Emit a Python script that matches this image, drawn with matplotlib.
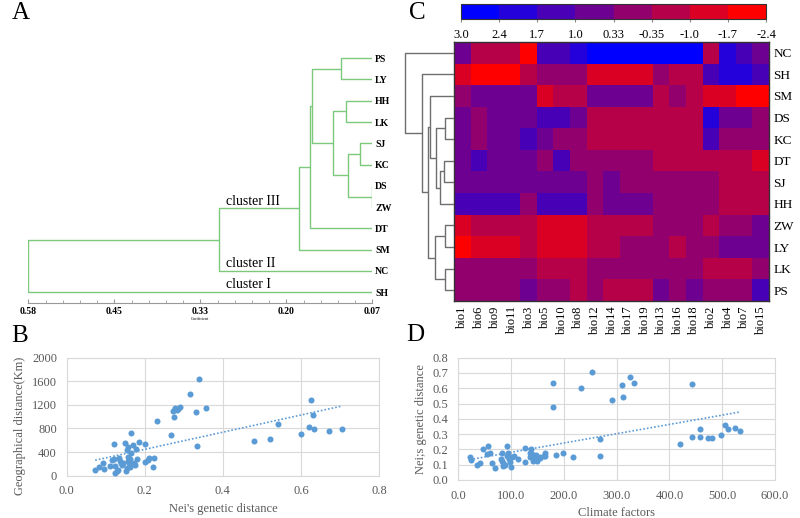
import numpy as np
import matplotlib
matplotlib.use('Agg')
import matplotlib.pyplot as plt
from matplotlib.colors import ListedColormap, BoundaryNorm
from matplotlib.ticker import FixedLocator

plt.rcParams['font.family'] = ['Liberation Serif', 'DejaVu Serif']

# ---- data ----
# panel A: UPGMA tree (Nei's coefficient)
treeLeaves = ['PS', 'LY', 'HH', 'LK', 'SJ', 'KC', 'DS', 'ZW', 'DT', 'SM', 'NC', 'SH']
treeMerges = [('PS', 'LY', 0.116), ('HH', 'LK', 0.1095), ('SJ', 'KC', 0.088),
              ('DS', 'ZW', 0.0705), (2, 3, 0.1065), (1, 4, 0.128), (0, 5, 0.160),
              (6, 'DT', 0.162), (7, 'SM', 0.179), (8, 'NC', 0.297), (9, 'SH', 0.58)]
treeTicks = ['0.58', '0.45', '0.33', '0.20', '0.07']

# panel C: heatmap of climate variables
hmRows = ['NC', 'SH', 'SM', 'DS', 'KC', 'DT', 'SJ', 'HH', 'ZW', 'LY', 'LK', 'PS']
hmCols = ['bio1', 'bio6', 'bio9', 'bio11', 'bio3', 'bio5', 'bio10', 'bio8', 'bio12',
          'bio14', 'bio17', 'bio19', 'bio13', 'bio16', 'bio18', 'bio2', 'bio4', 'bio7', 'bio15']
hmValues = np.array([
    [0.7, -0.7, -0.7, -0.7, -2.1, 1.4, 1.4, 2.0, 2.7, 2.7, 2.7, 2.7, 2.7, 2.7, 2.7, -0.7, 2.0, 1.4, 0.7],
    [-1.4, -2.1, -2.1, -2.1, -0.7, 0.0, 0.0, 0.0, -1.4, -1.4, -1.4, -1.4, 0.0, -0.7, -0.7, 1.4, 2.0, 2.0, 1.4],
    [0.0, 0.7, 0.7, 0.7, 0.7, -1.4, -0.7, -0.7, 0.7, 0.7, 0.7, 0.7, -0.7, 0.0, -0.7, -1.4, -1.4, -2.1, -2.1],
    [0.7, 0.0, 0.7, 0.7, 0.7, 1.4, 1.4, 0.7, -0.7, -0.7, -0.7, -0.7, -0.7, -0.7, -0.7, 2.0, 0.7, 0.7, 0.0],
    [0.7, 0.0, 0.7, 0.7, 1.4, 0.7, 0.0, 0.0, -0.7, -0.7, -0.7, -0.7, -0.7, -0.7, -0.7, 1.4, 0.0, 0.0, 0.0],
    [0.7, 1.4, 0.7, 0.7, 0.7, 0.0, 1.4, 0.0, 0.0, 0.0, 0.0, 0.0, -0.7, -0.7, -0.7, -0.7, -0.7, -0.7, -1.4],
    [0.7, 0.7, 0.7, 0.7, 0.7, 0.7, 0.7, 0.7, 0.0, 0.7, 0.0, 0.0, 0.0, 0.0, 0.0, 0.0, -0.7, -0.7, -0.7],
    [1.4, 1.4, 1.4, 1.4, 0.0, 1.4, 1.4, 1.4, 0.0, 0.7, 0.7, 0.7, 0.0, 0.0, 0.0, 0.0, -0.7, -0.7, -0.7],
    [-1.4, -0.7, -0.7, -0.7, -0.7, -1.4, -1.4, -1.4, -0.7, -0.7, -0.7, -0.7, 0.0, 0.0, 0.0, -0.7, 0.0, 0.0, 0.7],
    [-2.1, -1.4, -1.4, -1.4, -0.7, -1.4, -1.4, -1.4, -0.7, -0.7, 0.0, 0.0, 0.0, -0.7, 0.0, 0.0, 0.7, 0.7, 0.7],
    [0.0, 0.0, 0.0, 0.0, 0.0, -0.7, -0.7, -0.7, 0.0, 0.0, 0.0, 0.0, 0.0, 0.0, 0.0, -0.7, -0.7, -0.7, 0.0],
    [0.0, 0.0, 0.0, 0.0, 0.7, 0.0, 0.0, -0.7, 0.0, -0.7, -0.7, -0.7, 0.7, 0.0, 0.7, 0.0, 0.0, 0.0, 1.4],
])
cbBounds = [3.0, 2.4, 1.7, 1.0, 0.33, -0.35, -1.0, -1.7, -2.4]
cbLabels = ['3.0', '2.4', '1.7', '1.0', '0.33', '-0.35', '-1.0', '-1.7', '-2.4']
# row tree of heatmap (merge heights in arbitrary units)
hmMerges = [('DS', 'KC', 9), ('DT', 'SJ', 10.5), (1, 'HH', 14), (0, 2, 18.3),
            ('SM', 3, 24), ('ZW', 'LY', 9), ('LK', 'PS', 9), (5, 6, 19),
            (4, 7, 25.7), ('SH', 8, 32.3), ('NC', 9, 49)]

# panel B: genetic vs geographic distance
bX = [0.073, 0.082, 0.094, 0.096, 0.111, 0.116, 0.121, 0.122, 0.124, 0.125, 0.128, 0.131, 0.135,
      0.137, 0.138, 0.142, 0.143, 0.150, 0.151, 0.154, 0.155, 0.157, 0.158, 0.158, 0.160, 0.161,
      0.162, 0.164, 0.164, 0.165, 0.171, 0.172, 0.174, 0.177, 0.179, 0.186, 0.200, 0.200, 0.207,
      0.212, 0.222, 0.224, 0.232, 0.266, 0.272, 0.276, 0.278, 0.282, 0.285, 0.291, 0.317, 0.331,
      0.333, 0.340, 0.357, 0.480, 0.521, 0.540, 0.601, 0.620, 0.627, 0.632, 0.633, 0.672, 0.706]
bY = [90, 147, 220, 107, 164, 265, 288, 531, 164, 40, 85, 96, 294, 243, 220, 175, 209, 559, 79,
      136, 435, 492, 322, 254, 209, 141, 288, 718, 390, 198, 520, 220, 181, 446, 277, 565, 226,
      537, 265, 294, 153, 299, 932, 684, 1096, 1000, 1147, 1113, 1136, 1158, 1379, 1079, 503,
      1644, 1141, 588, 621, 876, 712, 830, 1282, 1028, 797, 757, 791]

# panel D: climate distance vs genetic distance
dX = [22, 25, 35, 42, 46, 55, 56, 60, 64, 69, 81, 82, 82, 84, 85, 89, 92, 93, 95, 97, 98, 99,
      102, 106, 114, 126, 126, 135, 136, 138, 140, 141, 142, 145, 147, 148, 150, 154, 155, 162,
      164, 164, 179, 179, 186, 199, 217, 232, 253, 269, 269, 291, 311, 312, 325, 332, 420, 442,
      442, 457, 457, 474, 480, 497, 506, 511, 524, 533]
dY = [0.153, 0.131, 0.098, 0.113, 0.200, 0.168, 0.222, 0.174, 0.113, 0.076, 0.135, 0.179, 0.126,
      0.092, 0.113, 0.100, 0.157, 0.222, 0.174, 0.135, 0.120, 0.083, 0.153, 0.157, 0.139, 0.209,
      0.120, 0.179, 0.153, 0.200, 0.170, 0.142, 0.126, 0.157, 0.135, 0.163, 0.126, 0.142, 0.153,
      0.157, 0.179, 0.157, 0.632, 0.479, 0.163, 0.174, 0.153, 0.603, 0.708, 0.157, 0.266, 0.521,
      0.621, 0.540, 0.671, 0.632, 0.233, 0.627, 0.279, 0.331, 0.283, 0.277, 0.272, 0.292, 0.359,
      0.335, 0.340, 0.320]

W, H = 800, 518
fig = plt.figure(figsize=(W / 100, H / 100), dpi=100)


def px_axes(x0, y0, x1, y1):
    # axes from pixel box (top-left origin)
    return fig.add_axes([x0 / W, 1 - y1 / H, (x1 - x0) / W, (y1 - y0) / H])


def draw_tree(ax, leaves, merges, base, color, lw):
    # draws dendrogram with leaves on y = index, heights along x
    pos = {name: (base, i) for i, name in enumerate(leaves)}
    nodes = []
    for a, b, h in merges:
        ha, ya = nodes[a] if isinstance(a, int) else pos[a]
        hb, yb = nodes[b] if isinstance(b, int) else pos[b]
        ax.plot([ha, h, h, hb], [ya, ya, yb, yb], color=color, lw=lw, solid_capstyle='butt')
        nodes.append((h, (ya + yb) / 2))
    return nodes


# ---- panel A ----
axA = px_axes(28.3, 48, 372.3, 302.7)
nodes = draw_tree(axA, treeLeaves, treeMerges, 0.07, '#7cc87c', 1.0)
axA.set_xlim(0.58, 0.07)
axA.set_ylim(11.49, -0.48)
for s in ['top', 'left', 'right']:
    axA.spines[s].set_visible(False)
axA.spines['bottom'].set_color('#999999')
axA.spines['bottom'].set_linewidth(0.8)
axA.xaxis.set_major_locator(FixedLocator(np.linspace(0.58, 0.07, 5)))
axA.xaxis.set_minor_locator(FixedLocator(np.linspace(0.58, 0.07, 21)))
axA.set_xticklabels(treeTicks, fontsize=7, fontweight='bold')
axA.tick_params(axis='x', which='both', direction='in', color='#999999', pad=3)
axA.tick_params(axis='x', which='major', length=3)
axA.tick_params(axis='x', which='minor', length=2)
axA.yaxis.tick_right()
axA.set_yticks(range(len(treeLeaves)))
axA.set_yticklabels(treeLeaves, fontsize=7, fontweight='bold')
axA.tick_params(axis='y', length=0, pad=2)
axA.set_xlabel('Coefficient', fontsize=3, labelpad=1)
axA.text(0.287, nodes[8][1] - 0.34, 'cluster III', fontsize=10, va='center')
axA.text(0.287, treeLeaves.index('NC') - 0.34, 'cluster II', fontsize=10, va='center')
axA.text(0.287, treeLeaves.index('SH') - 0.36, 'cluster I', fontsize=10, va='center')

# ---- panel C ----
levels = [(k / 7, 0, 1 - k / 7) for k in range(7, -1, -1)]
cmap = ListedColormap(levels)
norm = BoundaryNorm(sorted(cbBounds), cmap.N)

axC = px_axes(454, 42, 769, 301)
im = axC.imshow(hmValues, cmap=cmap, norm=norm, aspect='auto', interpolation='nearest')
axC.yaxis.tick_right()
axC.set_yticks(range(len(hmRows)))
axC.set_yticklabels(hmRows, fontsize=9.5)
axC.set_xticks(range(len(hmCols)))
axC.set_xticklabels(hmCols, fontsize=9, rotation=90)
axC.tick_params(length=0, pad=3)
for s in axC.spines.values():
    s.set_color('#333333')
    s.set_linewidth(1.0)

axT = px_axes(400, 42, 454, 301)
draw_tree(axT, hmRows, hmMerges, 0, '#6e6e6e', 1.0)
axT.set_xlim(54, 0)
axT.set_ylim(len(hmRows) - 0.5, -0.5)
axT.axis('off')

cax = px_axes(461, 4, 766, 19)
cb = fig.colorbar(im, cax=cax, orientation='horizontal', ticks=cbBounds, spacing='uniform')
cax.invert_xaxis()
cb.set_ticks(cbBounds)
cb.set_ticklabels(cbLabels)
cax.tick_params(labelsize=9, length=2, color='#888888', pad=5)
cb.outline.set_edgecolor('#333333')
cb.outline.set_linewidth(0.8)


def excel_scatter(ax, x, y, xlim, xticks, ylim, yticks, xfmt, yfmt, xlabel, ylabel, ylab_y):
    ax.set_axisbelow(True)
    ax.scatter(x, y, s=19, color='#5b9bd5', zorder=3, linewidths=0)
    k, c = np.polyfit(x, y, 1)
    xs = np.array([min(x), max(x)])
    ax.plot(xs, k * xs + c, ls=(0, (1, 1.2)), color='#5b9bd5', lw=1.2, zorder=2)
    ax.set_xlim(*xlim)
    ax.set_ylim(*ylim)
    ax.set_xticks(xticks)
    ax.set_yticks(yticks)
    ax.set_xticklabels([xfmt % v for v in xticks])
    ax.set_yticklabels([yfmt % v for v in yticks])
    ax.grid(True, color='#d9d9d9', lw=0.8)
    for s in ax.spines.values():
        s.set_color('#d9d9d9')
        s.set_linewidth(0.8)
    ax.tick_params(length=0, labelsize=9, labelcolor='#595959', pad=7)
    ax.set_xlabel(xlabel, fontsize=9, color='#595959', labelpad=4)
    ax.set_ylabel(ylabel, fontsize=9, color='#595959', labelpad=4)
    ax.yaxis.label.set_y(ylab_y)


# ---- panel B ----
axB = px_axes(66.7, 357.7, 379, 475.7)
excel_scatter(axB, bX, bY, (0, 0.8), [0, 0.2, 0.4, 0.6, 0.8], (0, 2000),
              [0, 400, 800, 1200, 1600, 2000], '%.1f', '%d',
              "Nei's genetic distance", 'Geographical distance(Km)', 0.42)

# ---- panel D ----
axD = px_axes(458.3, 357.7, 775, 480)
excel_scatter(axD, dX, dY, (0, 600), [0, 100, 200, 300, 400, 500, 600], (0, 0.8),
              [0, 0.1, 0.2, 0.3, 0.4, 0.5, 0.6, 0.7, 0.8], '%.1f', '%.1f',
              'Climate factors', 'Nei;s genetic distance', 0.5)

# panel letters
for letter, x, y in [('A', 21, 13), ('C', 417, 13), ('B', 20, 336), ('D', 415, 335)]:
    fig.text(x / W, 1 - y / H, letter, fontsize=18, ha='center', va='center')

fig.savefig('out.png', dpi=100)
